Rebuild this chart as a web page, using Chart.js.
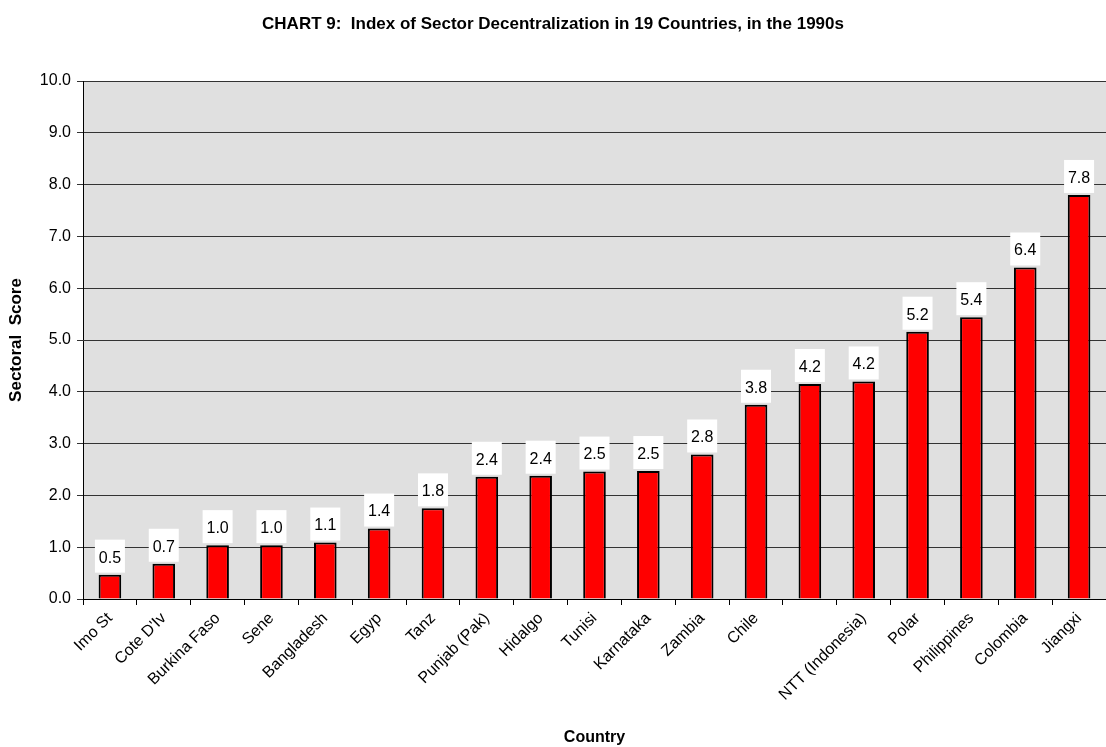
<!DOCTYPE html>
<html>
<head>
<meta charset="utf-8">
<script src="https://cdn.jsdelivr.net/npm/chart.js@4/dist/chart.umd.min.js"></script>
<style>
  html, body { margin: 0; padding: 0; background: #fff; }
  #wrap { width: 1106px; height: 747px; }
</style>
</head>
<body>
<div id="wrap"><canvas id="sectors"></canvas></div>
<script>
// ********************* data ***********************
const countries = [
    'Imo St',
    "Cote D'Iv",
    'Burkina Faso',
    'Sene',
    'Bangladesh',
    'Egyp',
    'Tanz',
    'Punjab (Pak)',
    'Hidalgo',
    'Tunisi',
    'Karnataka',
    'Zambia',
    'Chile',
    '',
    'NTT (Indonesia)',
    'Polar',
    'Philippines',
    'Colombia',
    'Jiangxi',
];

const scores = [0.47, 0.68, 1.04, 1.04, 1.09, 1.36, 1.75, 2.36, 2.38, 2.46, 2.47, 2.79, 3.75, 4.15, 4.20, 5.16, 5.44, 6.40, 7.80];

const yTicks = [0, 1, 2, 3, 4, 5, 6, 7, 8, 9, 10];

const FONT = '"Liberation Sans", Arial, sans-serif';

// grey plot background
const plotBg = {
    id: 'plotBg',
    beforeDraw(chart) {
        const { ctx, chartArea: a } = chart;
        ctx.save();
        ctx.fillStyle = '#e0e0e0';
        ctx.fillRect(a.left, a.top, a.right - a.left, a.bottom - a.top);
        ctx.restore();
    }
};

// value labels in white boxes above the bars
const valueLabels = {
    id: 'valueLabels',
    afterDatasetsDraw(chart) {
        const ctx = chart.ctx;
        const meta = chart.getDatasetMeta(0);
        ctx.save();
        ctx.font = '16px ' + FONT;
        ctx.textAlign = 'center';
        ctx.textBaseline = 'middle';
        meta.data.forEach((bar, i) => {
            const txt = scores[i].toFixed(1);
            const w = 30, h = 33;
            const x = bar.x, bottom = bar.y - 2;
            ctx.fillStyle = '#fff';
            ctx.fillRect(x - w / 2, bottom - h, w, h);
            ctx.fillStyle = '#000';
            ctx.fillText(txt, x, bottom - h / 2 + 2);
        });
        ctx.restore();
    }
};

const config = {
    type: 'bar',
    data: {
        labels: countries,
        datasets: [{
            label: 'Sectoral Score',
            data: scores,
            backgroundColor: '#ff0000',
            borderColor: '#000000',
            borderWidth: 2,
            borderSkipped: 'bottom',
            barPercentage: 0.42,
            categoryPercentage: 1.0,
        }]
    },
    options: {
        responsive: true,
        maintainAspectRatio: false,
        animation: false,
        layout: { padding: 0 },
        plugins: {
            legend: { display: false },
            tooltip: { enabled: false },
            title: {
                display: true,
                text: 'CHART 9:  Index of Sector Decentralization in 19 Countries, in the 1990s',
                color: '#000',
                font: { family: FONT, size: 17, weight: 'bold', lineHeight: 1.2 },
                padding: { top: 14, bottom: 46.6 },
            },
        },
        scales: {
            x: {
                offset: true,
                grid: {
                    offset: true,
                    drawOnChartArea: false,
                    color: '#000',
                    tickLength: 6,
                },
                border: { color: '#000', width: 1 },
                ticks: {
                    autoSkip: false,
                    minRotation: 45,
                    maxRotation: 45,
                    padding: 4,
                    color: '#000',
                    font: { family: FONT, size: 16 },
                },
                title: {
                    display: true,
                    text: 'Country',
                    color: '#000',
                    font: { family: FONT, size: 16, weight: 'bold' },
                    padding: { top: 0, bottom: 0 },
                },
                afterFit(scale) { scale.height = 148; },
            },
            y: {
                min: 0,
                max: 10,
                afterBuildTicks(scale) { scale.ticks = yTicks.map(v => ({ value: v })); },
                grid: {
                    color: '#333',
                    lineWidth: 1,
                    tickLength: 6,
                },
                border: { color: '#000', width: 1 },
                ticks: {
                    padding: 6,
                    color: '#000',
                    font: { family: FONT, size: 16 },
                    callback: v => Number(v).toFixed(1),
                },
                title: {
                    display: true,
                    text: 'Sectoral  Score',
                    color: '#000',
                    font: { family: FONT, size: 17, weight: 'bold' },
                    padding: { top: 6, bottom: 4 },
                },
                afterFit(scale) { scale.width = 83; },
            }
        }
    },
    plugins: [plotBg, valueLabels]
};

const sectors = new Chart(
    document.getElementById('sectors'),
    config
);
</script>
</body>
</html>
